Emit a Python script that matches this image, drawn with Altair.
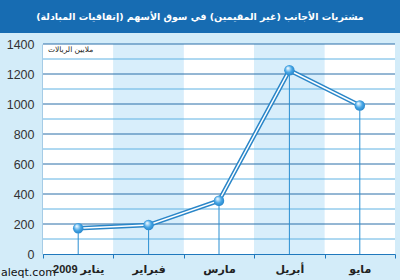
import altair as alt
import pandas as pd

title_text = "مشتريات  الأجانب (غير المقيمين) في سوق الأسهم (إتفاقيات المبادلة)"
unit_text = "ملايين الريالات"
watermark = "aleqt.com"

months = ["يناير 2009", "فبراير", "مارس", "أبريل", "مايو"]
values = [172, 193, 355, 1225, 990]
band_shade = ["w", "b", "w", "b", "w"]
grid_values = [100, 200, 300, 400, 500, 600, 700, 800, 900, 1000, 1100, 1200, 1300, 1400]
y_ticks = [0, 200, 400, 600, 800, 1000, 1200, 1400]

df = pd.DataFrame({"month": months, "value": values, "band": band_shade})
gdf = pd.DataFrame({"value": grid_values, "major": ["M" if v % 200 == 0 else "m" for v in grid_values]})
tdf = pd.DataFrame({"t": [title_text]})
udf = pd.DataFrame({"t": [unit_text]})
wdf = pd.DataFrame({"t": [watermark]})

FONT = "Liberation Sans, DejaVu Sans, sans-serif"

xaxis = alt.Axis(title=None, labelAngle=0, tickBand="extent", domainColor="#1f78bd",
                 tickColor="#1f78bd", tickSize=4, labelFont=FONT, labelFontSize=11,
                 labelFontWeight="bold", labelColor="#222222", labelPadding=5, grid=False)
yaxis = alt.Axis(title=None, values=y_ticks, format="d", ticks=False, grid=False,
                 domainColor="#1f6fae", domainWidth=1.5, labelFont=FONT,
                 labelFontSize=12.5, labelColor="#333333", labelPadding=9)
xscale = alt.Scale(paddingInner=0, paddingOuter=0)
yscale = alt.Scale(domain=[0, 1400], nice=False)


def X():
    return alt.X("month:N", sort=months, scale=xscale, axis=xaxis)


def Y():
    return alt.Y("value:Q", scale=yscale, axis=yaxis)


bands = alt.Chart(df).mark_rect().encode(
    x=X(), y=alt.value(0), y2=alt.value(210),
    color=alt.Color("band:N", scale=alt.Scale(domain=["w", "b"], range=["#ffffff", "#d8eefb"]), legend=None),
)

grid = alt.Chart(gdf).mark_rule(strokeWidth=1).encode(
    y=Y(),
    color=alt.Color("major:N", scale=alt.Scale(domain=["M", "m"], range=["#2a6fa8", "#5fb2e3"]), legend=None),
)

drops = alt.Chart(df).mark_rule(color="#2b8fd2", strokeWidth=1).encode(
    x=X(), y=Y(), y2=alt.datum(0)
)

line_outer = alt.Chart(df).mark_line(color="#2a86c8", strokeWidth=4.5).encode(x=X(), y=Y())
line_inner = alt.Chart(df).mark_line(color="#ffffff", strokeWidth=1.5).encode(x=X(), y=Y())

pts = alt.Chart(df).mark_circle(
    size=110, opacity=1,
    color=alt.RadialGradient(gradient="radial", x1=0.35, y1=0.3, r1=0.05, x2=0.5, y2=0.5, r2=0.6,
                             stops=[alt.GradientStop(offset=0, color="#e8f6ff"),
                                    alt.GradientStop(offset=0.5, color="#45a6e6"),
                                    alt.GradientStop(offset=1, color="#1f7cc2")]),
).encode(x=X(), y=Y())

title_bar = alt.Chart(tdf).mark_rect(color="#176cb2").encode(
    x=alt.value(-43), x2=alt.value(357), y=alt.value(-44), y2=alt.value(-11)
)
title = alt.Chart(tdf).mark_text(color="white", font="DejaVu Sans", fontSize=9.5, fontWeight="bold",
                                 align="center", baseline="middle").encode(
    x=alt.value(157), y=alt.value(-27), text="t:N"
)
unit = alt.Chart(udf).mark_text(color="#222222", font="DejaVu Sans", fontSize=7.5,
                                align="left", baseline="middle").encode(
    x=alt.value(5), y=alt.value(6), text="t:N"
)
wm = alt.Chart(wdf).mark_text(color="#111111", font="DejaVu Sans", fontSize=11,
                              align="left", baseline="middle").encode(
    x=alt.value(-42), y=alt.value(229), text="t:N"
)

chart = alt.layer(
    bands, grid, drops, line_outer, line_inner, pts, title_bar, title, unit, wm
).resolve_scale(color="independent").properties(
    width=352, height=210, autosize="none",
    padding={"left": 43, "top": 44, "right": 5, "bottom": 26},
    background="#d3ecf9",
).configure_view(stroke=None)

chart.save("out.html", embed_options={"renderer": "svg", "actions": False})
